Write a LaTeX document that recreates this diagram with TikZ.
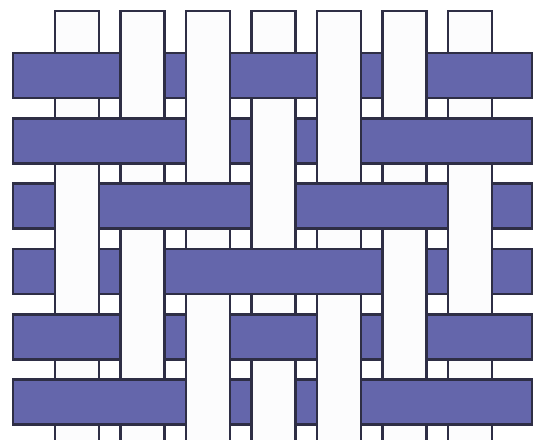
\documentclass[tikz,border=0pt]{standalone}
\usepackage{tikz}

\begin{document}
\begin{tikzpicture}[
  x=1pt, y=-1pt,
  warp/.style={fill=warpFill, draw=edgeDark, line width=2.7pt},
  weft/.style={fill=weftFill, draw=edgeDark, line width=2.7pt},
  cover/.style={fill=warpFill},
  side/.style={draw=edgeDark, line width=2.7pt},
]
\definecolor{warpFill}{HTML}{FCFCFD}
\definecolor{weftFill}{HTML}{6466AB}
\definecolor{edgeDark}{HTML}{2E2E45}

\useasboundingbox (0,0) rectangle (534,439);
\clip (0,0) rectangle (534,439);

% Vertical warp strips go down first, the blue weft rows are laid over them.
\foreach \c in {0,...,6}
  \draw[warp] ({55+65.5*\c},11) rectangle ++(44,445);
\foreach \r in {0,...,5}
  \draw[weft] (13,{53+65.3*\r}) rectangle (532,{98+65.3*\r});

% Where a warp passes over a row (1), bring the white strip back on top.
\foreach \r/\pat in {0/{0,1,1,0,1,1,0}, 1/{0,0,1,1,1,0,0}, 2/{1,0,0,1,0,0,1},
                     3/{1,1,0,0,0,1,1}, 4/{0,1,1,0,1,1,0}, 5/{0,0,1,1,1,0,0}}
  \foreach \up [count=\c from 0] in \pat {
    \ifnum\up=1
      \fill[cover] ({55+65.5*\c},{51.5+65.3*\r}) rectangle ++(44,48);
      \draw[side] ({55+65.5*\c},{51.5+65.3*\r}) -- ++(0,48)
                  ({99+65.5*\c},{51.5+65.3*\r}) -- ++(0,48);
    \fi
  }
\end{tikzpicture}
\end{document}
